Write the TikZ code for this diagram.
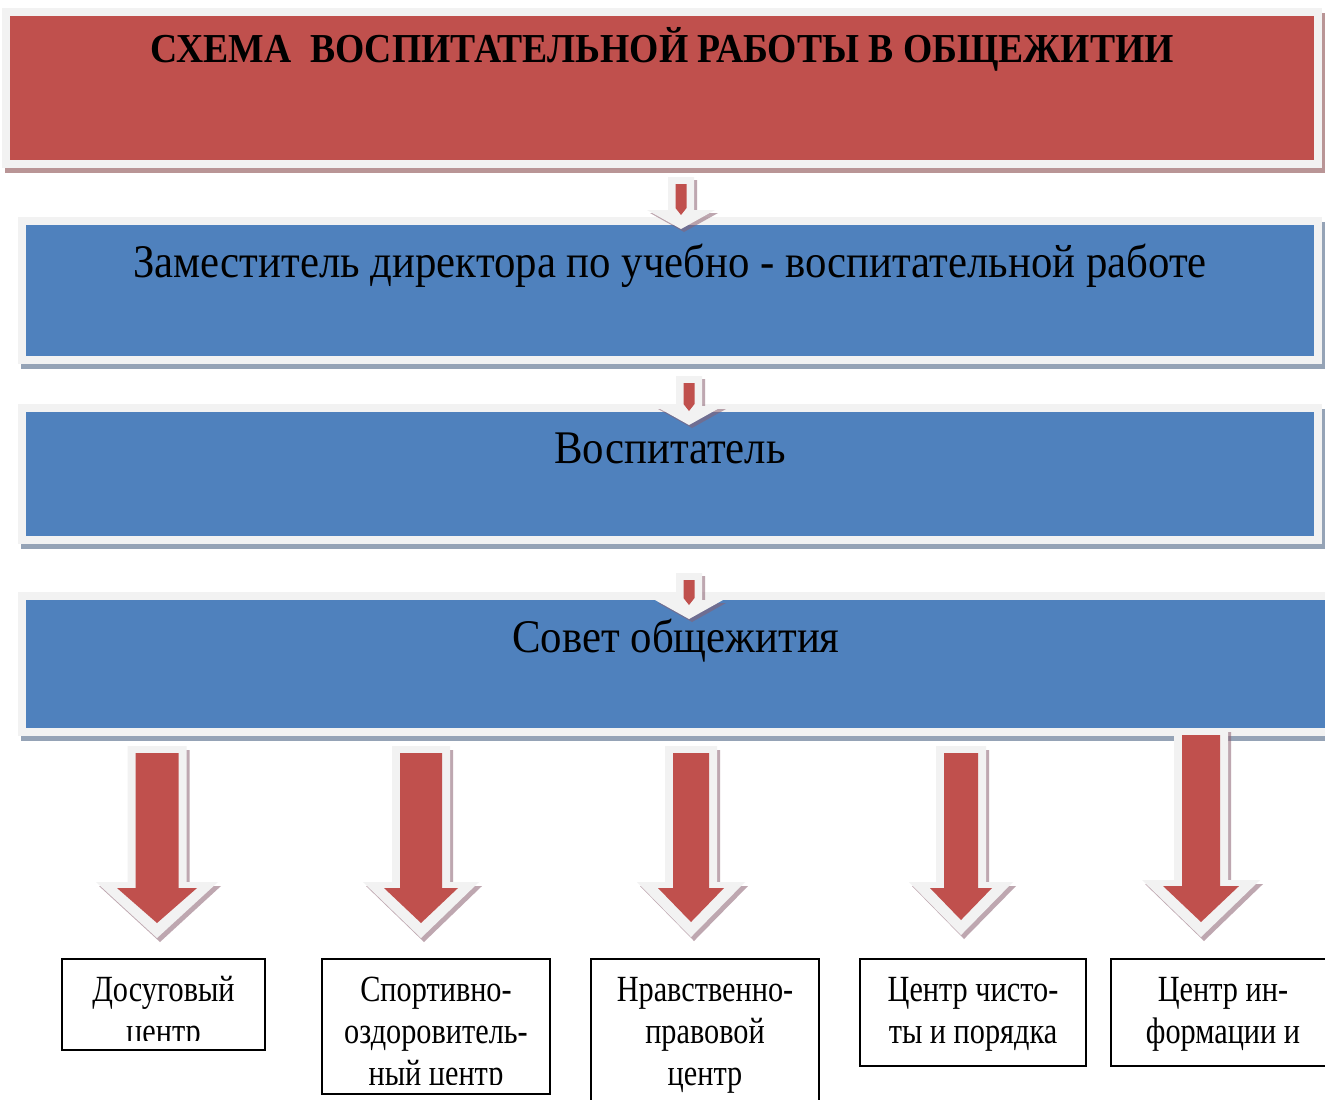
\documentclass[tikz,border=0pt]{standalone}
\usepackage{fontspec}
\setmainfont{Liberation Serif}
\newfontfamily\titlefont[FakeStretch=0.915]{Liberation Serif}
\newfontfamily\boxfont[FakeStretch=0.915]{Liberation Serif}
\newfontfamily\unitfont[FakeStretch=0.82]{Liberation Serif}
\definecolor{boxred}{HTML}{C0504D}
\definecolor{boxblue}{HTML}{4F81BD}
\definecolor{framegray}{HTML}{F2F2F2}
\definecolor{redshade}{HTML}{B99596}
\definecolor{blueshade}{HTML}{95A3B6}
\definecolor{arrowshade}{HTML}{8A6070}
\tikzset{
  framed/.style={draw=framegray, line width=0.8mm, inner sep=0pt},
  redbox/.style={framed, fill=boxred, preaction={fill=redshade, draw=redshade,
      transform canvas={xshift=0.3mm, yshift=-0.5mm}}},
  bluebox/.style={framed, fill=boxblue, preaction={fill=blueshade, draw=blueshade,
      transform canvas={xshift=0.3mm, yshift=-0.5mm}}},
  unitbox/.style={draw=black, line width=0.2mm, inner sep=0pt},
  unittext/.style={font=\unitfont\fontsize{10.5}{11.95}\selectfont, inner sep=0pt, anchor=base},
}
% #1 cx, #2 top, #3 neck, #4 tip, #5 shaft half width, #6 head half width
\newcommand\blockarrow[6]{%
  \fill[arrowshade, opacity=.55, shift={(3,4)}]
    ({#1-#5-8},{#2-7}) -- ({#1+#5+8},{#2-7}) -- ({#1+#5+8},{#3-6}) -- ({#1+#6+21},{#3-6})
    -- (#1,{#4+15}) -- ({#1-#6-21},{#3-6}) -- ({#1-#5-8},{#3-6}) -- cycle;
  \fill[framegray]
    ({#1-#5-8},{#2-7}) -- ({#1+#5+8},{#2-7}) -- ({#1+#5+8},{#3-6}) -- ({#1+#6+21},{#3-6})
    -- (#1,{#4+15}) -- ({#1-#6-21},{#3-6}) -- ({#1-#5-8},{#3-6}) -- cycle;
  \fill[boxred]
    ({#1-#5},#2) -- ({#1+#5},#2) -- ({#1+#5},#3) -- ({#1+#6},#3)
    -- (#1,#4) -- ({#1-#6},#3) -- ({#1-#5},#3) -- cycle;
}
% #1 cx, #2 top, #3 head
\newcommand\smallarrow[3]{%
  \fill[arrowshade, opacity=.55, shift={(3,3)}]
    ({#1-13},#2) -- ({#1+13},#2) -- ({#1+13},#3) -- ({#1+34},#3)
    -- (#1,{#3+19}) -- ({#1-34},#3) -- ({#1-13},#3) -- cycle;
  \fill[framegray]
    ({#1-13},#2) -- ({#1+13},#2) -- ({#1+13},#3) -- ({#1+34},#3)
    -- (#1,{#3+19}) -- ({#1-34},#3) -- ({#1-13},#3) -- cycle;
  \fill[boxred]
    ({#1-5.5},{#2+7}) -- ({#1+5.5},{#2+7}) -- ({#1+5.5},{#3-2})
    -- (#1,{#3+5}) -- ({#1-5.5},{#3-2}) -- cycle;
}
\newcommand\lines[1]{\begin{tabular}[t]{@{}c@{}}#1\end{tabular}}
% text of a centre box, cut off 1mm above its bottom line
\newcommand\unitlines[1]{%
  \clip ([yshift=1mm]path picture bounding box.south west) rectangle
    (path picture bounding box.north east);
  \node[unittext] at ([yshift=-4.2mm]path picture bounding box.north) {\lines{#1}};}
\begin{document}
\begin{tikzpicture}[x=0.01cm, y=-0.01cm]
  \clip (0,0) rectangle (1325,1099);
  \fill[white] (0,0) rectangle (1325,1099);

  % boxes of the chain
  \node[redbox, minimum width=131.2mm, minimum height=15.2mm] (title) at (662,88) {};
  \node[bluebox, minimum width=129.6mm, minimum height=13.9mm] (deputy) at (670,290.5) {};
  \node[bluebox, minimum width=129.6mm, minimum height=13.2mm] (tutor) at (670,474) {};
  \node[bluebox, minimum width=130.9mm, minimum height=13.6mm] (council) at (676.5,664) {};

  \node[anchor=base, font=\titlefont\bfseries\fontsize{11.7}{14}\selectfont] (titlelbl) at (662,62)
    {СХЕМА\ \ ВОСПИТАТЕЛЬНОЙ РАБОТЫ В ОБЩЕЖИТИИ};
  \node[anchor=base, font=\boxfont\fontsize{13.3}{16}\selectfont] (deputylbl) at (670,277)
    {Заместитель директора по учебно - воспитательной работе};
  \node[anchor=base, font=\boxfont\fontsize{13.3}{16}\selectfont] (tutorlbl) at (670,463)
    {Воспитатель};
  \node[anchor=base, font=\boxfont\fontsize{13.3}{16}\selectfont] (councillbl) at (676,652)
    {Совет общежития};

  \smallarrow{681}{177}{210}
  \smallarrow{689}{376}{406}
  \smallarrow{689}{573}{600}

  \blockarrow{157}{753}{888}{923}{21.5}{40}
  \blockarrow{421}{753}{888}{923}{21}{37}
  \blockarrow{691}{753}{888}{922}{18}{33}
  \blockarrow{961}{753}{888}{920}{17}{31}
  \blockarrow{1201}{735}{886}{922}{19}{38}

  % centres
  \node[unitbox, minimum width=20.3mm, minimum height=9.1mm,
    path picture={\unitlines{Досуговый\\центр}}] (leisure) at (163.5,1004.5) {};
  \node[unitbox, minimum width=22.8mm, minimum height=13.5mm,
    path picture={\unitlines{Спортивно-\\оздоровитель-\\ный центр}}] (sport) at (436,1026.5) {};
  \node[unitbox, minimum width=22.8mm, minimum height=15.1mm,
    path picture={\unitlines{Нравственно-\\правовой\\центр}}] (moral) at (705,1034.5) {};
  \node[unitbox, minimum width=22.6mm, minimum height=10.7mm,
    path picture={\unitlines{Центр чисто-\\ты и порядка}}] (order) at (973,1012.5) {};
  \node[unitbox, minimum width=22.4mm, minimum height=10.7mm,
    path picture={\unitlines{Центр ин-\\формации и\\досуга}}] (info) at (1223,1012.5) {};
\end{tikzpicture}
\end{document}
